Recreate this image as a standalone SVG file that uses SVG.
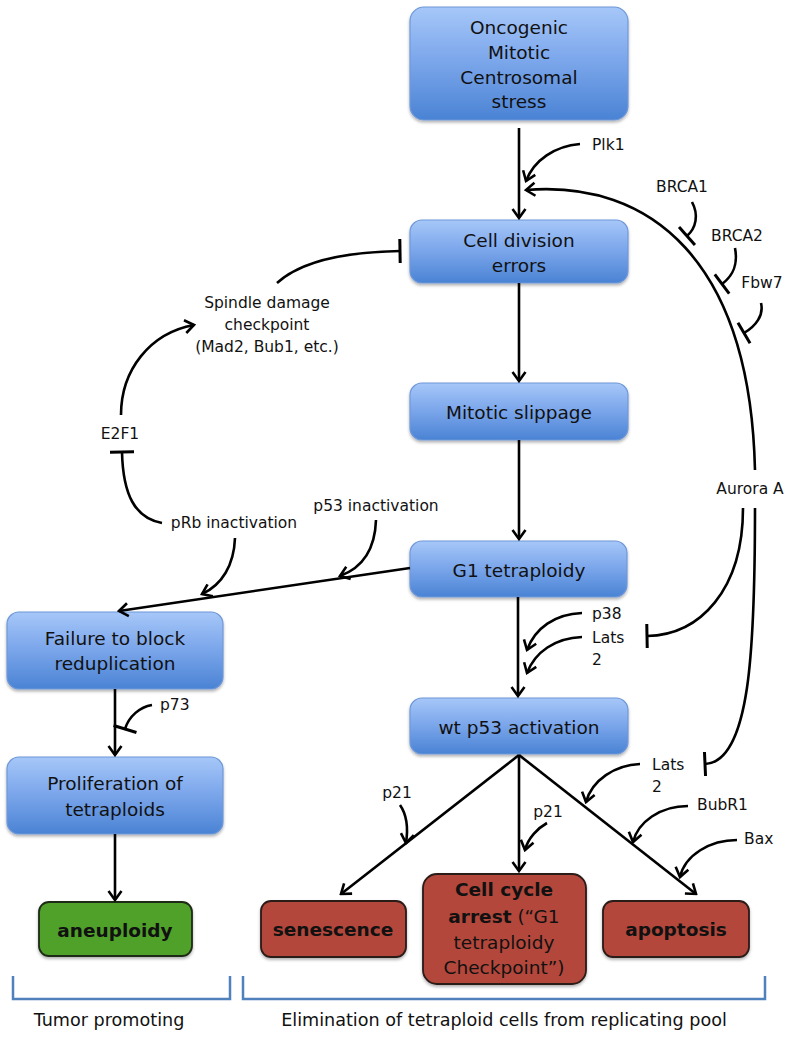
<svg xmlns="http://www.w3.org/2000/svg" width="800" height="1038" viewBox="0 0 800 1038">
<defs>
<linearGradient id="blue" x1="0" y1="0" x2="0" y2="1">
<stop offset="0" stop-color="#a6c7f8"/>
<stop offset="0.45" stop-color="#7ea8ec"/>
<stop offset="1" stop-color="#4a83d4"/>
</linearGradient>
<filter id="sh" x="-10%" y="-10%" width="120%" height="130%">
<feDropShadow dx="0" dy="2" stdDeviation="1.5" flood-color="#000" flood-opacity="0.3"/>
</filter>
<marker id="arr" viewBox="-12 -8 14 16" refX="0" refY="0" markerWidth="14" markerHeight="16" markerUnits="userSpaceOnUse" orient="auto">
<path d="M-9,-6.5 L0,0 L-9,6.5" fill="none" stroke="#000" stroke-width="2.6" stroke-linejoin="miter"/>
</marker>
<marker id="tee" viewBox="-3 -14 6 28" refX="0" refY="0" markerWidth="6" markerHeight="28" markerUnits="userSpaceOnUse" orient="auto">
<path d="M0,-12 L0,12" stroke="#000" stroke-width="3"/>
</marker>
</defs>
<style>
.bn rect{fill:url(#blue);stroke:#6f98d8;stroke-width:1.2;filter:url(#sh)}
.rn rect{fill:#b3473b;stroke:#2a1a18;stroke-width:1.8;filter:url(#sh)}
.gn rect{fill:#4fa12b;stroke:#1f2a16;stroke-width:1.8;filter:url(#sh)}
text{font-family:"DejaVu Sans","Liberation Sans",sans-serif;fill:#111}
.t{font-size:18.5px;text-anchor:middle;dominant-baseline:central}
.b{font-size:18.5px;font-weight:bold;text-anchor:middle;dominant-baseline:central}
.l{font-size:15.5px;dominant-baseline:central}
.lc{font-size:15.5px;text-anchor:middle;dominant-baseline:central}
.ft{font-size:17.6px;text-anchor:middle}
#conn path{fill:none;stroke:#000;stroke-width:2.6}
.a{marker-end:url(#arr)}
.i{marker-end:url(#tee)}
.br{fill:none;stroke:#4f81bd;stroke-width:2.5}
</style>

<g id="n-oncogenic" class="bn">
<rect x="410" y="7" width="218" height="113" rx="14"/>
<text class="t" x="519" y="27">Oncogenic</text>
<text class="t" x="519" y="52">Mitotic</text>
<text class="t" x="519" y="77">Centrosomal</text>
<text class="t" x="519" y="101">stress</text>
</g>
<g id="n-celldiv" class="bn">
<rect x="410" y="220" width="218" height="63" rx="12"/>
<text class="t" x="519" y="240">Cell division</text>
<text class="t" x="519" y="265">errors</text>
</g>
<g id="n-slippage" class="bn">
<rect x="410" y="383" width="218" height="57" rx="12"/>
<text class="t" x="519" y="412">Mitotic slippage</text>
</g>
<g id="n-g1" class="bn">
<rect x="410" y="541" width="217" height="56" rx="12"/>
<text class="t" x="519" y="570">G1 tetraploidy</text>
</g>
<g id="n-p53" class="bn">
<rect x="410" y="698" width="218" height="56" rx="12"/>
<text class="t" x="519" y="727">wt p53 activation</text>
</g>
<g id="n-failure" class="bn">
<rect x="7" y="612" width="216" height="77" rx="12"/>
<text class="t" x="115" y="638">Failure to block</text>
<text class="t" x="115" y="663">reduplication</text>
</g>
<g id="n-prolif" class="bn">
<rect x="7" y="757" width="216" height="77" rx="12"/>
<text class="t" x="115" y="783">Proliferation of</text>
<text class="t" x="115" y="809">tetraploids</text>
</g>
<g id="n-aneuploidy" class="gn">
<rect x="39" y="902" width="153" height="54" rx="10"/>
<text class="b" x="115" y="930">aneuploidy</text>
</g>
<g id="n-senescence" class="rn">
<rect x="261" y="901" width="145" height="56" rx="10"/>
<text class="b" x="333" y="929">senescence</text>
</g>
<g id="n-arrest" class="rn">
<rect x="423" y="874" width="163" height="110" rx="14"/>
<text class="b" x="504" y="889">Cell cycle</text>
<text class="t" x="504" y="916"><tspan font-weight="bold">arrest</tspan> (“G1</text>
<text class="t" x="504" y="942">tetraploidy</text>
<text class="t" x="504" y="967">Checkpoint”)</text>
</g>
<g id="n-apoptosis" class="rn">
<rect x="603" y="901" width="146" height="56" rx="10"/>
<text class="b" x="676" y="929">apoptosis</text>
</g>

<g id="labels">
<text class="lc" x="267" y="303">Spindle damage</text>
<text class="lc" x="267" y="325">checkpoint</text>
<text class="lc" x="267" y="347">(Mad2, Bub1, etc.)</text>
<text class="lc" x="120" y="434">E2F1</text>
<text class="lc" x="234" y="523">pRb inactivation</text>
<text class="lc" x="376" y="506">p53 inactivation</text>
<text class="l" x="592" y="145">Plk1</text>
<text class="lc" x="682" y="187">BRCA1</text>
<text class="lc" x="737" y="236">BRCA2</text>
<text class="lc" x="762" y="283">Fbw7</text>
<text class="lc" x="750" y="489">Aurora A</text>
<text class="l" x="592" y="614">p38</text>
<text class="l" x="592" y="638">Lats</text>
<text class="l" x="592" y="660">2</text>
<text class="l" x="160" y="705">p73</text>
<text class="lc" x="397" y="793">p21</text>
<text class="lc" x="548" y="812">p21</text>
<text class="l" x="652" y="765">Lats</text>
<text class="l" x="652" y="787">2</text>
<text class="l" x="697" y="805">BubR1</text>
<text class="l" x="744" y="839">Bax</text>
<text class="ft" x="109" y="1026">Tumor promoting</text>
<text class="ft" x="504" y="1026">Elimination of tetraploid cells from replicating pool</text>
</g>

<g id="conn">
<path class="a" d="M519,128 L519,218"/>
<path class="a" d="M580,144 C555,146 534,160 526,181"/>
<path class="a" d="M755,470 C750,260 650,180 526,190"/>
<path class="i" d="M692,202 C699,215 696,228 687,236"/>
<path class="i" d="M735,248 C738,264 734,275 722,284"/>
<path class="i" d="M761,303 C764,315 756,326 744,333"/>
<path class="a" d="M519,283 L519,381"/>
<path class="a" d="M519,440 L519,539"/>
<path class="a" d="M518,597 L518,696"/>
<path class="i" d="M277,283 C300,262 340,252 400,251"/>
<path class="a" d="M121,415 C121,370 150,333 194,325"/>
<path class="i" d="M162,523 C135,518 123,495 122,452"/>
<path class="a" d="M410,568 L119,611"/>
<path class="a" d="M235,538 C234,565 222,585 202,594"/>
<path class="a" d="M376,520 C375,550 362,568 340,576"/>
<path class="a" d="M115,689 L115,755"/>
<path class="i" d="M152,705 C140,707 129,716 125,729"/>
<path class="a" d="M115,834 L115,900"/>
<path class="a" d="M582,613 C555,614 535,628 527,650"/>
<path class="a" d="M582,637 C555,638 535,652 527,673"/>
<path class="i" d="M743,508 C743,590 700,635 647,636"/>
<path class="i" d="M755,508 C755,650 750,762 705,764"/>
<path class="a" d="M519,755 L341,894"/>
<path class="a" d="M519,755 L519,871"/>
<path class="a" d="M519,755 L696,894"/>
<path class="a" d="M400,805 C407,815 408,830 406,843"/>
<path class="a" d="M547,823 C538,828 528,838 525,850"/>
<path class="a" d="M640,764 C615,765 592,780 586,802"/>
<path class="a" d="M688,806 C660,806 638,822 633,842"/>
<path class="a" d="M737,840 C710,840 685,855 680,877"/>
</g>

<g id="brackets">
<path class="br" d="M13,976 L13,999 L230,999 L230,976"/>
<path class="br" d="M243,976 L243,999 L765,999 L765,976"/>
</g>
</svg>
